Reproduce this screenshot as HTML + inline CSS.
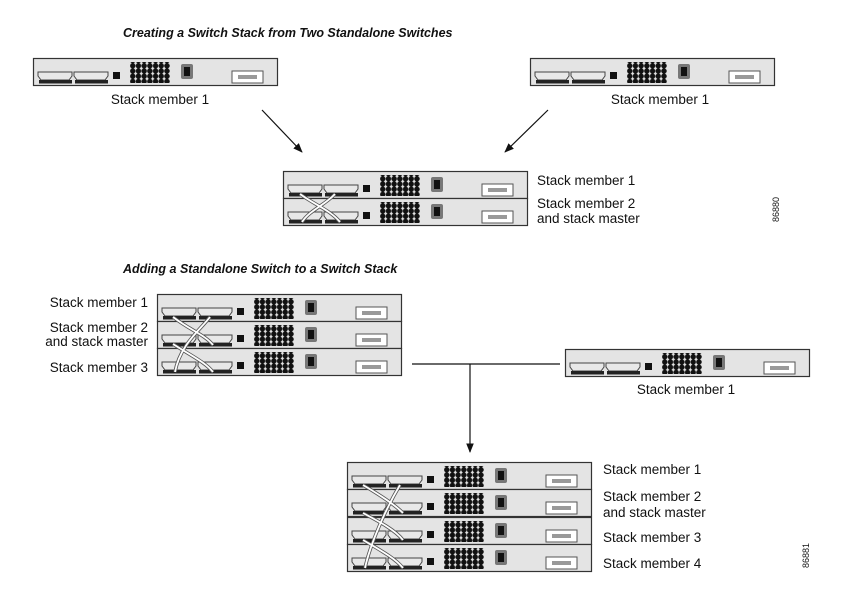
<!DOCTYPE html>
<html><head><meta charset="utf-8"><style>
html,body{margin:0;padding:0;background:#fff;}
svg{display:block;font-family:"Liberation Sans",Arial,sans-serif;}
</style></head><body>
<svg width="855" height="598" viewBox="0 0 855 598" xmlns="http://www.w3.org/2000/svg">
<defs>
<pattern id="dots" width="5.7" height="5.2" patternUnits="userSpaceOnUse">
<circle cx="2.85" cy="2.6" r="2.7" fill="#111"/>
</pattern>
<g id="sw">
<rect x="0.5" y="0.5" width="244" height="27" fill="#e4e4e4" stroke="#333" stroke-width="1.2"/>
<path d="M5 14 h34 v4 l-3 4 h-28 l-3 -4z" fill="#e8e8e8" stroke="#444" stroke-width="1"/>
<path d="M41 14 h34 v4 l-3 4 h-28 l-3 -4z" fill="#e8e8e8" stroke="#444" stroke-width="1"/>
<rect x="6" y="22" width="33" height="3.5" fill="#222"/>
<rect x="42" y="22" width="33" height="3.5" fill="#222"/>
<rect x="80" y="14" width="7" height="7" fill="#111"/>
<rect x="97" y="4" width="40" height="21" fill="url(#dots)"/>
<rect x="148" y="6" width="12" height="15" rx="2" fill="#777"/>
<rect x="151" y="9" width="6" height="9" fill="#111"/>
<rect x="199" y="13" width="31" height="12" fill="#fff" stroke="#555" stroke-width="1"/>
<rect x="205" y="17" width="19" height="4" fill="#999"/>
</g>
<marker id="ar" viewBox="0 0 10 10" refX="9" refY="5" markerWidth="8" markerHeight="8" orient="auto"><path d="M0 1 L10 5 L0 9z" fill="#111"/></marker>
</defs>

<g font-style="italic" font-weight="bold" font-size="12.5" fill="#111">
<text x="123" y="37">Creating a Switch Stack from Two Standalone Switches</text>
<text x="123" y="273">Adding a Standalone Switch to a Switch Stack</text>
</g>

<g font-size="13.5" fill="#111">
<use href="#sw" x="33" y="58"/>
<text x="160" y="104" text-anchor="middle">Stack member 1</text>
<use href="#sw" x="530" y="58"/>
<text x="660" y="104" text-anchor="middle">Stack member 1</text>

<line x1="262" y1="110" x2="302" y2="152" stroke="#111" stroke-width="1.2" marker-end="url(#ar)"/>
<line x1="548" y1="110" x2="505" y2="152" stroke="#111" stroke-width="1.2" marker-end="url(#ar)"/>

<use href="#sw" x="283" y="171"/>
<use href="#sw" x="283" y="198"/>
<path d="M300 194 C315 205,330 210,340 222 M335 194 C325 205,310 210,302 222" fill="none" stroke="#555" stroke-width="3.5"/>
<path d="M300 194 C315 205,330 210,340 222 M335 194 C325 205,310 210,302 222" fill="none" stroke="#fff" stroke-width="1.8"/>
<text x="537" y="185">Stack member 1</text>
<text x="537" y="208">Stack member 2</text>
<text x="537" y="223">and stack master</text>
<text transform="translate(779,222) rotate(-90)" font-size="9">86880</text>

<use href="#sw" x="157" y="294"/>
<use href="#sw" x="157" y="321"/>
<use href="#sw" x="157" y="348"/>
<g fill="none">
<path d="M173 317 C190 330,205 335,213 345 M210 317 C200 330,180 345,175 372 M173 344 C190 355,205 362,213 372" stroke="#555" stroke-width="3.5"/>
<path d="M173 317 C190 330,205 335,213 345 M210 317 C200 330,180 345,175 372 M173 344 C190 355,205 362,213 372" stroke="#fff" stroke-width="1.8"/>
</g>
<text x="148" y="307" text-anchor="end">Stack member 1</text>
<text x="148" y="332" text-anchor="end">Stack member 2</text>
<text x="148" y="346" text-anchor="end">and stack master</text>
<text x="148" y="372" text-anchor="end">Stack member 3</text>

<use href="#sw" x="565" y="349"/>
<text x="686" y="394" text-anchor="middle">Stack member 1</text>

<line x1="412" y1="364" x2="560" y2="364" stroke="#111" stroke-width="1.2"/>
<line x1="470" y1="364" x2="470" y2="452" stroke="#111" stroke-width="1.2" marker-end="url(#ar)"/>

<use href="#sw" x="347" y="462"/>
<use href="#sw" x="347" y="489"/>
<use href="#sw" x="347" y="517"/>
<use href="#sw" x="347" y="544"/>
<g fill="none">
<path d="M363 485 C380 495,395 505,403 513 M400 485 C385 510,370 545,365 568 M363 513 C380 522,395 530,403 540 M363 540 C380 550,395 558,403 568" stroke="#555" stroke-width="3.5"/>
<path d="M363 485 C380 495,395 505,403 513 M400 485 C385 510,370 545,365 568 M363 513 C380 522,395 530,403 540 M363 540 C380 550,395 558,403 568" stroke="#fff" stroke-width="1.8"/>
</g>
<text x="603" y="474">Stack member 1</text>
<text x="603" y="501">Stack member 2</text>
<text x="603" y="517">and stack master</text>
<text x="603" y="542">Stack member 3</text>
<text x="603" y="568">Stack member 4</text>
<text transform="translate(809,568) rotate(-90)" font-size="9">86881</text>
</g>
</svg>
</body></html>
